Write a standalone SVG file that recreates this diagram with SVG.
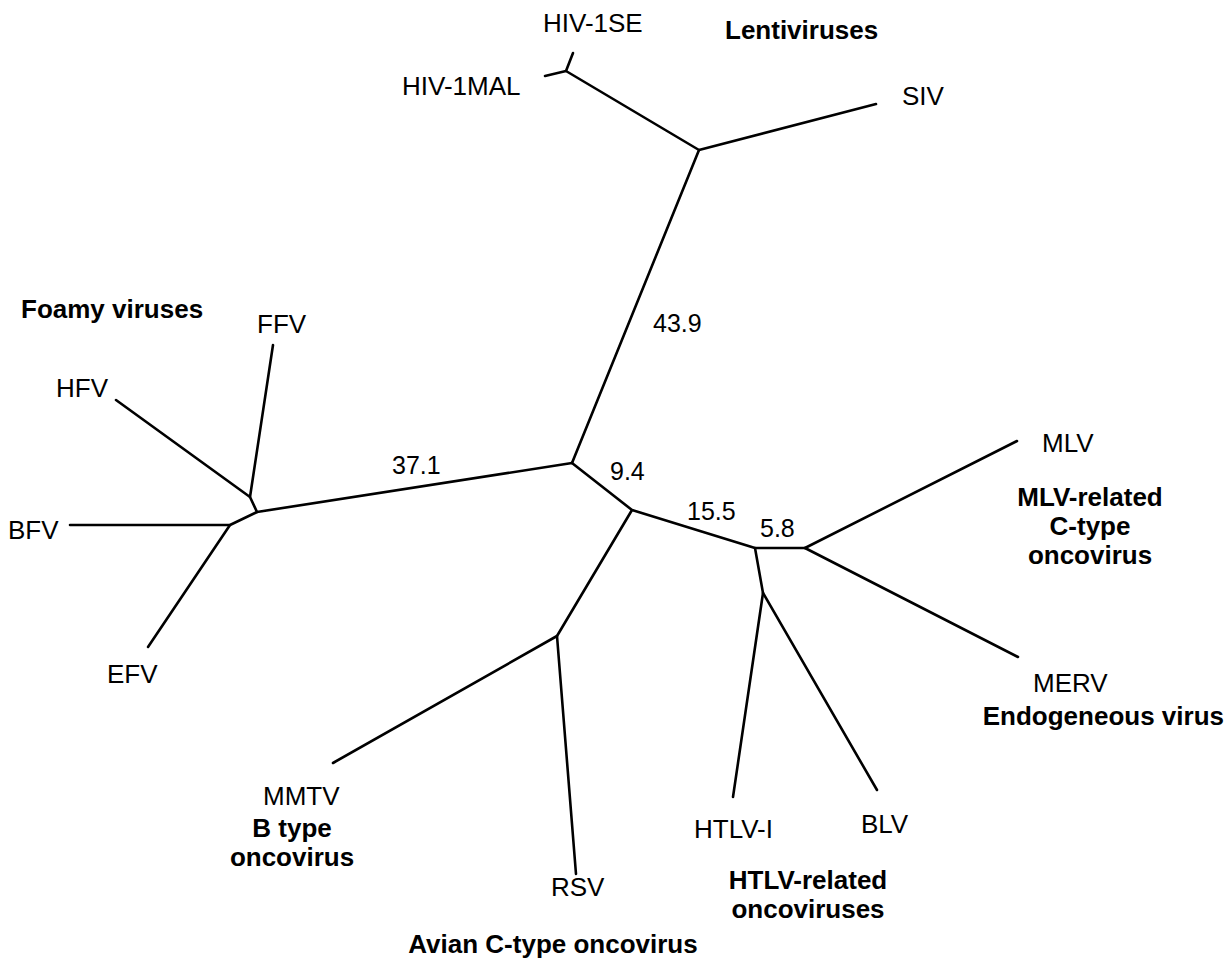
<svg xmlns="http://www.w3.org/2000/svg" width="1228" height="965" viewBox="0 0 1228 965">
<style>
.e{stroke:#000;stroke-width:2.6;fill:none;stroke-linecap:round;stroke-linejoin:round}
.t{font-family:"Liberation Sans",Arial,Helvetica,sans-serif;font-size:26px;fill:#000}
.b{font-family:"Liberation Sans",Arial,Helvetica,sans-serif;font-size:26px;font-weight:bold;fill:#000}
.n{font-family:"Liberation Sans",Arial,Helvetica,sans-serif;font-size:25px;fill:#000}
</style>
<rect width="1228" height="965" fill="#fff"/>
<g id="connectors">
<path class="e" d="M573,53 L566,71 L545,76"/>
<path class="e" d="M566,71 L699,150 L876,104"/>
<path class="e" d="M699,150 L572,463"/>
<path class="e" d="M572,463 L257,512"/>
<path class="e" d="M273,345 L250,497 L116,400"/>
<path class="e" d="M250,497 L257,512 L230,525 L70,525"/>
<path class="e" d="M230,525 L148,647"/>
<path class="e" d="M572,463 L632,510 L755,548 L805,548"/>
<path class="e" d="M805,548 L1017,441"/>
<path class="e" d="M805,548 L1018,657"/>
<path class="e" d="M755,548 L763,593 L733,797"/>
<path class="e" d="M763,593 L877,790"/>
<path class="e" d="M632,510 L557,636 L333,763"/>
<path class="e" d="M557,636 L576,874"/>
</g>
<g id="branch-lengths">
<text class="n" x="653" y="332">43.9</text>
<text class="n" x="392" y="474">37.1</text>
<text class="n" x="610" y="480">9.4</text>
<text class="n" x="687" y="520">15.5</text>
<text class="n" x="760" y="537">5.8</text>
</g>
<g id="HIV-1SE"><text class="t" x="543" y="32">HIV-1SE</text></g>
<g id="HIV-1MAL"><text class="t" x="402" y="95">HIV-1MAL</text></g>
<g id="SIV"><text class="t" x="902" y="105">SIV</text></g>
<g id="Lentiviruses"><text class="b" x="725" y="39">Lentiviruses</text></g>
<g id="Foamy"><text class="b" x="21" y="318">Foamy viruses</text></g>
<g id="FFV"><text class="t" x="257" y="333">FFV</text></g>
<g id="HFV"><text class="t" x="56" y="397">HFV</text></g>
<g id="BFV"><text class="t" x="8" y="539">BFV</text></g>
<g id="EFV"><text class="t" x="107" y="683">EFV</text></g>
<g id="MLV"><text class="t" x="1042" y="452">MLV</text></g>
<g id="MLV-related"><text class="b" text-anchor="middle"><tspan x="1090" y="506">MLV-related</tspan><tspan x="1090" y="535">C-type</tspan><tspan x="1090" y="564">oncovirus</tspan></text></g>
<g id="MERV"><text class="t" x="1033" y="692">MERV</text></g>
<g id="Endogeneous"><text class="b" x="1224" y="725" text-anchor="end">Endogeneous virus</text></g>
<g id="MMTV"><text class="t" x="263" y="805">MMTV</text></g>
<g id="Btype"><text class="b" text-anchor="middle"><tspan x="292" y="837">B type</tspan><tspan x="292" y="866">oncovirus</tspan></text></g>
<g id="RSV"><text class="t" x="551" y="896">RSV</text></g>
<g id="Avian"><text class="b" x="553" y="953" text-anchor="middle">Avian C-type oncovirus</text></g>
<g id="HTLV-I"><text class="t" x="694" y="838">HTLV-I</text></g>
<g id="BLV"><text class="t" x="861" y="833">BLV</text></g>
<g id="HTLV-related"><text class="b" text-anchor="middle"><tspan x="808" y="889">HTLV-related</tspan><tspan x="808" y="918">oncoviruses</tspan></text></g>
</svg>
